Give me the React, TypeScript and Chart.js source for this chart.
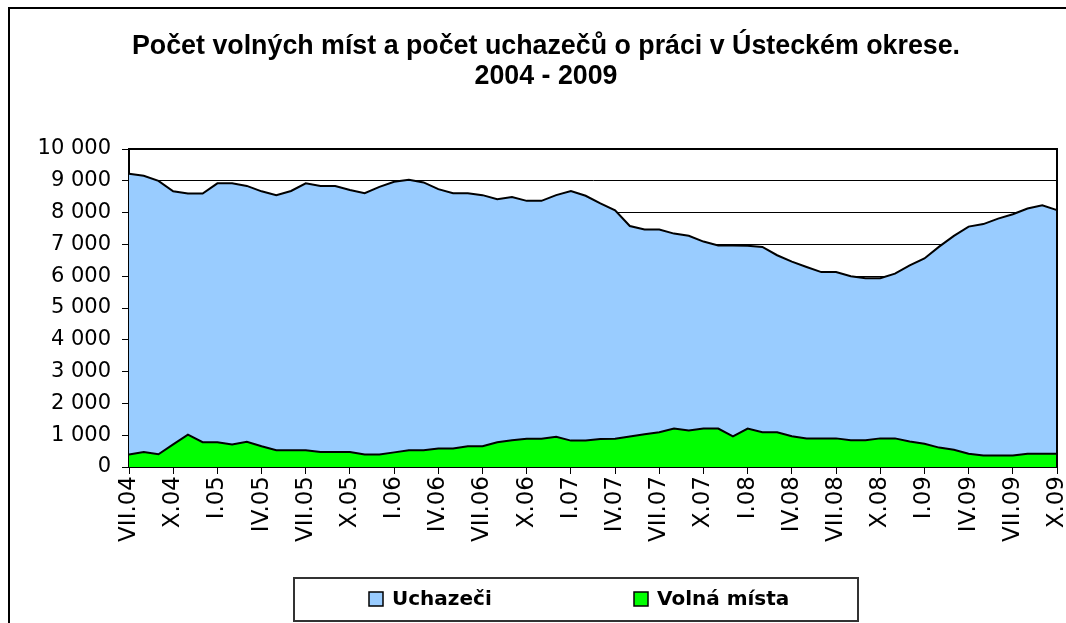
import React, { useEffect, useRef } from 'react';
import { Chart, registerables } from 'chart.js';

Chart.register(...registerables);

const labels = [
  'VII.04', 'VIII.04', 'IX.04', 'X.04', 'XI.04', 'XII.04',
  'I.05', 'II.05', 'III.05', 'IV.05', 'V.05', 'VI.05', 'VII.05', 'VIII.05', 'IX.05', 'X.05', 'XI.05', 'XII.05',
  'I.06', 'II.06', 'III.06', 'IV.06', 'V.06', 'VI.06', 'VII.06', 'VIII.06', 'IX.06', 'X.06', 'XI.06', 'XII.06',
  'I.07', 'II.07', 'III.07', 'IV.07', 'V.07', 'VI.07', 'VII.07', 'VIII.07', 'IX.07', 'X.07', 'XI.07', 'XII.07',
  'I.08', 'II.08', 'III.08', 'IV.08', 'V.08', 'VI.08', 'VII.08', 'VIII.08', 'IX.08', 'X.08', 'XI.08', 'XII.08',
  'I.09', 'II.09', 'III.09', 'IV.09', 'V.09', 'VI.09', 'VII.09', 'VIII.09', 'IX.09', 'X.09',
];

const uchazeci = [
  9220, 9160, 9000, 8670, 8600, 8600, 8920, 8920, 8840, 8670,
  8550, 8680, 8920, 8840, 8840, 8710, 8610, 8810, 8970, 9030,
  8950, 8740, 8610, 8610, 8550, 8420, 8490, 8370, 8370, 8550,
  8680, 8530, 8290, 8070, 7580, 7470, 7470, 7340, 7270, 7090,
  6970, 6970, 6960, 6920, 6660, 6460, 6290, 6130, 6130, 6000,
  5940, 5940, 6080, 6340, 6560, 6930, 7270, 7560, 7640, 7810,
  7950, 8130, 8230, 8080,
];

const volnaMista = [
  390, 470, 400, 710, 1020, 780, 780, 710, 790, 650,
  530, 530, 530, 470, 470, 470, 390, 390, 460, 530,
  530, 580, 580, 650, 650, 780, 840, 890, 890, 950,
  830, 830, 880, 890, 960, 1030, 1090, 1210, 1150, 1210,
  1210, 960, 1210, 1090, 1090, 970, 900, 900, 900, 840,
  840, 900, 900, 800, 730, 610, 540, 420, 360, 360,
  360, 420, 420, 420,
];

const titleLines = ['Počet volných míst a počet uchazečů o práci v Ústeckém okrese.', '2004 - 2009'];
const seriesNames = ['Uchazeči', 'Volná místa'];
const seriesColors = ['#99CCFF', '#00FF00'];

const TITLE_FONT = "'Liberation Sans', Arial, Helvetica, sans-serif";
const AXIS_FONT = "'DejaVu Sans', Verdana, sans-serif";

const formatThousands = (v: number) => String(v).replace(/\B(?=(\d{3})+(?!\d))/g, ' ');

const framePlugin = {
  id: 'frame',
  beforeDraw(chart: any) {
    const { ctx, width, height } = chart;
    ctx.save();
    ctx.fillStyle = '#ffffff';
    ctx.fillRect(0, 0, width, height);
    ctx.strokeStyle = '#000000';
    ctx.lineWidth = 2;
    ctx.strokeRect(9, 8, width + 20, height + 20);
    ctx.restore();
  },
};

const plotBorderPlugin = {
  id: 'plotBorder',
  afterDraw(chart: any) {
    const { ctx, chartArea } = chart;
    ctx.save();
    ctx.strokeStyle = '#000000';
    ctx.lineWidth = 2;
    ctx.beginPath();
    ctx.moveTo(chartArea.left, chartArea.top);
    ctx.lineTo(chartArea.right, chartArea.top);
    ctx.lineTo(chartArea.right, chartArea.bottom);
    ctx.stroke();
    ctx.restore();
  },
};

const boxLegendPlugin = {
  id: 'boxLegend',
  afterDraw(chart: any) {
    const { ctx } = chart;
    ctx.save();
    ctx.strokeStyle = '#333333';
    ctx.lineWidth = 2;
    ctx.strokeRect(294, 578, 564, 43);
    const xs = [369, 634];
    ctx.font = `bold 20px ${AXIS_FONT}`;
    ctx.textBaseline = 'middle';
    ctx.textAlign = 'left';
    seriesNames.forEach((name, i) => {
      ctx.fillStyle = seriesColors[i];
      ctx.fillRect(xs[i], 592, 14, 14);
      ctx.strokeStyle = '#000000';
      ctx.lineWidth = 1.5;
      ctx.strokeRect(xs[i], 592, 14, 14);
      ctx.fillStyle = '#000000';
      ctx.fillText(name, xs[i] + 23, 600);
    });
    ctx.restore();
  },
};

export default function App() {
  const canvasRef = useRef<HTMLCanvasElement | null>(null);

  useEffect(() => {
    if (!canvasRef.current) return;
    const chart = new Chart(canvasRef.current, {
      type: 'line',
      data: {
        labels,
        datasets: [
          {
            label: seriesNames[0],
            data: uchazeci,
            backgroundColor: seriesColors[0],
            borderColor: '#000000',
            borderWidth: 2,
            fill: 'origin',
            pointRadius: 0,
            tension: 0,
            order: 1,
          },
          {
            label: seriesNames[1],
            data: volnaMista,
            backgroundColor: seriesColors[1],
            borderColor: '#000000',
            borderWidth: 2,
            fill: 'origin',
            pointRadius: 0,
            tension: 0,
            order: 0,
          },
        ],
      },
      options: {
        animation: false,
        responsive: false,
        maintainAspectRatio: false,
        layout: { padding: { left: 35, right: 9, top: 0, bottom: 76 } },
        plugins: {
          legend: { display: false },
          tooltip: { enabled: false },
          title: {
            display: true,
            text: titleLines,
            color: '#000000',
            font: { family: TITLE_FONT, size: 26.8, weight: 'bold', lineHeight: 1.12 },
            padding: { top: 32, bottom: 57 },
          },
        },
        scales: {
          x: {
            type: 'category',
            offset: false,
            afterFit: (scale: any) => {
              scale.height = 80;
              scale.paddingRight = 0;
              scale.paddingLeft = 0;
            },
            grid: {
              drawOnChartArea: false,
              drawTicks: true,
              tickLength: 7,
              color: (ctx: any) => (ctx.index % 3 === 0 ? '#000000' : 'rgba(0,0,0,0)'),
              tickColor: (ctx: any) => (ctx.index % 3 === 0 ? '#000000' : 'rgba(0,0,0,0)'),
              lineWidth: 1,
            },
            border: { display: true, color: '#000000', width: 2 },
            ticks: {
              autoSkip: false,
              maxRotation: 90,
              minRotation: 90,
              padding: 2,
              color: '#000000',
              font: { family: AXIS_FONT, size: 23 },
              callback: (_v: any, idx: number) => (idx % 3 === 0 ? labels[idx] : ''),
            },
          },
          y: {
            min: 0,
            max: 10000,
            afterFit: (scale: any) => {
              scale.width = 94;
            },
            grid: {
              color: '#000000',
              lineWidth: 1,
              drawTicks: true,
              tickLength: 7,
              tickColor: '#000000',
            },
            border: { display: true, color: '#000000', width: 2 },
            ticks: {
              stepSize: 1000,
              padding: 11,
              color: '#000000',
              font: { family: AXIS_FONT, size: 21 },
              callback: (v: any) => formatThousands(Number(v)),
            },
          },
        },
      },
      plugins: [framePlugin, plotBorderPlugin, boxLegendPlugin],
    });
    return () => chart.destroy();
  }, []);

  return (
    <div style={{ position: 'absolute', left: 0, top: 0, width: 1066, height: 623, overflow: 'hidden' }}>
      <canvas ref={canvasRef} width={1066} height={623} style={{ display: 'block', width: 1066, height: 623 }} />
    </div>
  );
}
